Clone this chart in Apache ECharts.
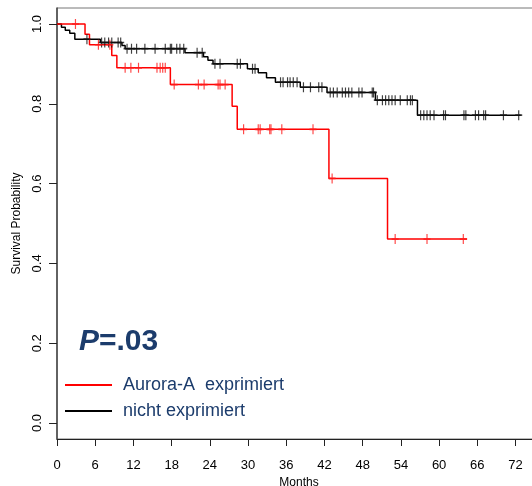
<!DOCTYPE html>
<html style="height: 100%;">
<head>
    <meta charset="UTF-8">
    <script src="https://cdn.jsdelivr.net/npm/echarts/dist/echarts.min.js"></script>
</head>
<body style="height: 100%; margin: 0; background: #fff;">
    <div id="chart" style="width: 532px; height: 486px;"></div>

    <script type="text/javascript">
        // Kaplan-Meier steps (time in months, survival after the step)
        var redTime = [0, 4.4, 5.1, 8.6, 9.4, 17.8, 27.5, 28.3, 42.7, 51.9, 64.4];
        var redSurv = [1.0, 0.974, 0.948, 0.921, 0.89, 0.848, 0.794, 0.736, 0.613, 0.461, 0.461];
        var redCensored = [2.9, 6.5, 8.3, 10.7, 11.6, 12.8, 15.7, 16.2, 16.6, 17.0, 18.4, 22.2, 23.1,
            25.3, 25.6, 26.4, 29.3, 31.6, 31.9, 33.4, 33.6, 35.3, 40.2, 43.2, 53.1, 58.1, 63.8];

        var blackTime = [0, 0.7, 1.3, 2.0, 2.8, 6.8, 10.2, 10.7, 20.1, 23.0, 23.7, 24.5, 29.9, 31.6,
            32.9, 34.3, 38.2, 42.4, 50.0, 56.6, 72.8];
        var blackSurv = [1.0, 0.992, 0.984, 0.977, 0.962, 0.9535, 0.946, 0.938, 0.928, 0.918, 0.909,
            0.90, 0.8875, 0.8775, 0.865, 0.854, 0.8415, 0.8285, 0.809, 0.7715, 0.7715];
        var blackCensored = [4.7, 7.0, 7.5, 8.1, 8.6, 9.6, 10.0, 11.0, 11.7, 12.5, 13.8, 15.4, 17.0,
            17.8, 18.0, 18.8, 19.3, 19.9, 22.0, 22.8, 24.8, 25.6, 28.3, 28.8, 30.7, 31.1, 35.1, 35.5,
            36.2, 36.6, 37.1, 37.7, 38.7, 39.8, 41.1, 41.6, 42.9, 43.4, 44.0, 44.8, 45.3, 45.8, 46.3,
            47.4, 47.9, 49.5, 49.7, 50.3, 51.1, 51.6, 52.1, 52.6, 53.1, 53.9, 55.0, 55.5, 55.8, 57.1,
            57.6, 58.1, 58.6, 59.2, 60.7, 61.0, 63.9, 64.2, 65.7, 66.2, 67.0, 67.3, 70.1, 72.5];

        var xTicks = [0, 6, 12, 18, 24, 30, 36, 42, 48, 54, 60, 66, 72];
        var yTicks = [0, 0.2, 0.4, 0.6, 0.8, 1.0];

        var seriesNames = ['Aurora-A  exprimiert', 'nicht exprimiert'];
        var pValueText = '.03';

        var font = "'Liberation Sans', Arial, sans-serif";
        var textBlue = '#1c3c6c';

        function pairs(ts, ss) {
            return ts.map(function (t, i) { return [t, ss[i]]; });
        }

        // survival value of a step curve at time t (for placing the censoring marks)
        function survAt(ts, ss, t) {
            var s = ss[0];
            for (var i = 0; i < ts.length; i++) {
                if (ts[i] <= t) s = ss[i];
            }
            return s;
        }

        function censorPoints(cs, ts, ss) {
            return cs.map(function (t) { return [t, survAt(ts, ss, t)]; });
        }

        var plus = 'path://M5,0L5,10M0,5L10,5';

        var chart = echarts.init(document.getElementById('chart'));

        var option = {
            animation: false,
            backgroundColor: '#fff',
            grid: {
                left: 57,
                top: 8,
                right: -9,
                bottom: 47,
                outerBoundsMode: 'none',
                containLabel: false,
                show: true,
                borderColor: '#777',
                borderWidth: 1
            },
            title: {
                text: '{p|P}{r|=' + pValueText + '}',
                left: 74,
                top: 322,
                textStyle: {
                    rich: {
                        p: { fontFamily: font, fontSize: 30, fontWeight: 'bold', fontStyle: 'italic', color: textBlue },
                        r: { fontFamily: font, fontSize: 30, fontWeight: 'bold', color: textBlue }
                    }
                }
            },
            legend: {
                data: seriesNames,
                orient: 'vertical',
                left: 65,
                top: 376,
                padding: 0,
                itemGap: 8,
                icon: 'rect',
                itemWidth: 47,
                itemHeight: 2,
                textStyle: {
                    fontFamily: font,
                    fontSize: 18,
                    color: textBlue,
                    padding: [0, 0, 0, 6]
                }
            },
            xAxis: {
                type: 'value',
                min: 0,
                max: 76,
                name: 'Months',
                nameLocation: 'middle',
                nameGap: 36,
                nameTextStyle: { fontFamily: font, fontSize: 12, color: '#000' },
                splitLine: { show: false },
                axisLine: { onZero: false, lineStyle: { color: '#222', width: 1 } },
                axisTick: { customValues: xTicks, length: 7, lineStyle: { color: '#222' } },
                axisLabel: {
                    customValues: xTicks,
                    margin: 20,
                    fontFamily: font,
                    fontSize: 13,
                    color: '#000'
                }
            },
            yAxis: {
                type: 'value',
                min: -0.04,
                max: 1.04,
                name: 'Survival Probability',
                nameLocation: 'middle',
                nameGap: 28,
                nameTextStyle: { fontFamily: font, fontSize: 12, color: '#000' },
                splitLine: { show: false },
                axisLine: { show: true, onZero: false, lineStyle: { color: '#444', width: 1.5 } },
                axisTick: { show: true, customValues: yTicks, length: 8, lineStyle: { color: '#222' } },
                axisLabel: {
                    customValues: yTicks,
                    rotate: 90,
                    margin: 13,
                    fontFamily: font,
                    fontSize: 13,
                    color: '#000',
                    formatter: function (v) { return v.toFixed(1); }
                }
            },
            series: [
                {
                    name: seriesNames[0],
                    type: 'line',
                    step: 'end',
                    symbol: 'none',
                    data: pairs(redTime, redSurv),
                    lineStyle: { color: '#ff0000', width: 1.5 },
                    itemStyle: { color: '#ff0000' },
                    z: 3
                },
                {
                    name: seriesNames[1],
                    type: 'line',
                    step: 'end',
                    symbol: 'none',
                    data: pairs(blackTime, blackSurv),
                    lineStyle: { color: '#000', width: 1.5 },
                    itemStyle: { color: '#000' },
                    z: 2
                },
                {
                    name: 'red censored',
                    type: 'scatter',
                    symbol: plus,
                    symbolSize: [7, 10],
                    data: censorPoints(redCensored, redTime, redSurv),
                    itemStyle: { color: 'rgba(0,0,0,0)', borderColor: '#ff1a1a', borderWidth: 1.4 },
                    z: 4
                },
                {
                    name: 'black censored',
                    type: 'scatter',
                    symbol: plus,
                    symbolSize: [7, 10],
                    data: censorPoints(blackCensored, blackTime, blackSurv),
                    itemStyle: { color: 'rgba(0,0,0,0)', borderColor: '#111', borderWidth: 1.4 },
                    z: 3
                }
            ]
        };

        chart.setOption(option);
        window.addEventListener('resize', chart.resize);
    </script>
</body>
</html>
